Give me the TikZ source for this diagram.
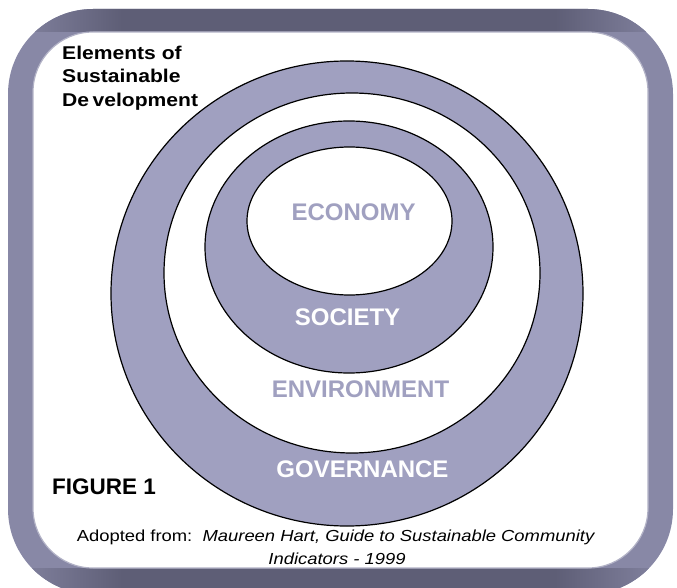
\documentclass[tikz,border=0pt]{standalone}
\usepackage{fontspec}
\setmainfont{Liberation Sans}
\usetikzlibrary{shapes.geometric}
\definecolor{ringfill}{RGB}{160,160,192}
\definecolor{framedark}{RGB}{94,94,118}
\definecolor{frameside}{RGB}{136,136,166}
\definecolor{framelight}{RGB}{178,178,198}
\pgfdeclarehorizontalshading{bandshade}{100bp}{color(0bp)=(frameside); color(25bp)=(frameside); color(34bp)=(framedark); color(66bp)=(framedark); color(75bp)=(frameside); color(100bp)=(frameside)}
\begin{document}
\begin{tikzpicture}[x=1pt,y=-1pt,
  ring/.style={ellipse, draw=black, line width=1.2pt, inner sep=0pt, fill=#1},
  biglabel/.style={font=\fontsize{24}{28}\selectfont\bfseries, anchor=base, inner sep=0pt},
  headtext/.style={font=\fontsize{18.5}{22}\selectfont\bfseries, anchor=base west, inner sep=0pt},
  citetext/.style={font=\fontsize{16}{19}\selectfont, anchor=base, inner sep=0pt}]
\useasboundingbox (0,0) rectangle (677,588);
% frame
\fill[frameside, rounded corners=85pt] (8,9) rectangle (673,594);
\begin{scope}
  \clip[rounded corners=85pt] (8,9) rectangle (673,594);
  \shade[shading=bandshade] (0,0) rectangle (677,32);
  \shade[shading=bandshade] (0,568) rectangle (677,600);
\end{scope}
\fill[white, rounded corners=60pt] (33,32) rectangle (648,568);
\draw[framelight, line width=1.2pt, rounded corners=60pt] (33,32) rectangle (648,568);
% nested ellipses
\node[ring=ringfill, minimum width=472pt, minimum height=465pt] (gov) at (347,293.5) {};
\node[ring=white, minimum width=376pt, minimum height=360pt] (env) at (352,273) {};
\node[ring=ringfill, minimum width=288pt, minimum height=252pt] (soc) at (349,247) {};
\node[ring=white, minimum width=205pt, minimum height=148pt] (eco) at (349.5,221) {};
% labels
\node[biglabel, text=ringfill] (ecolbl) at (353.5,221) {ECONOMY};
\node[biglabel, text=white] (soclbl) at (347.5,325) {SOCIETY};
\node[biglabel, text=ringfill] (envlbl) at (360.5,397) {ENVIRONMENT};
\node[biglabel, text=white] (govlbl) at (362.5,477) {GOVERNANCE};
% heading
\node[headtext] (h1) at (62,60) {\scalebox{1.14}[1]{Elements of}};
\node[headtext] (h2) at (62,83) {\scalebox{1.14}[1]{Sustainable}};
\node[headtext] (h3) at (62,107) {\scalebox{1.14}[1]{De\hspace{3pt}velopment}};
\node[font=\fontsize{22.5}{26}\selectfont\bfseries, anchor=base west, inner sep=0pt] (fig) at (52,494) {FIGURE 1};
% citation
\node[citetext] (c1) at (336,541) {\scalebox{1.15}[1]{Adopted from:\ \ \textit{Maureen Hart, Guide to Sustainable Community}}};
\node[citetext] (c2) at (337,564) {\scalebox{1.15}[1]{\textit{Indicators - 1999}}};
\end{tikzpicture}
\end{document}
